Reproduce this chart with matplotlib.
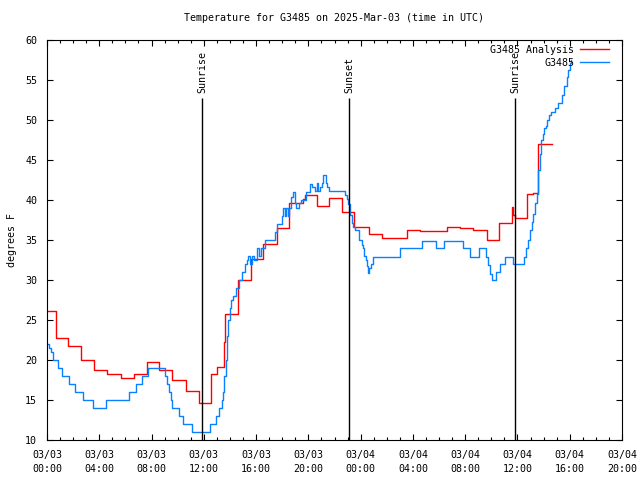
import pandas as pd
import matplotlib.pyplot as plt
import matplotlib.dates as mdates

# data (hours since 2025-03-03 00:00 UTC, degrees F)
start = pd.Timestamp('2025-03-03 00:00')

analysis_hours = [0.0, 0.67, 1.58, 2.58, 3.57, 4.57, 5.64, 6.63, 7.63, 8.55, 9.54, 10.61,
                  11.61, 12.53, 12.99, 13.55, 13.60, 14.64, 15.59, 16.55, 17.58, 18.54,
                  19.61, 19.74, 20.64, 21.56, 22.54, 23.52, 24.64, 25.63, 27.57, 28.54,
                  30.59, 31.60, 32.62, 33.65, 34.61, 35.61, 35.68, 35.78, 36.71, 37.19,
                  37.57, 38.62]
analysis_temp = [26.1, 22.8, 21.7, 20.0, 18.8, 18.2, 17.8, 18.3, 19.7, 18.7, 17.5, 16.1,
                 14.6, 18.3, 19.1, 22.3, 25.8, 30.0, 32.6, 34.5, 36.5, 39.6,
                 40.1, 40.6, 39.2, 40.3, 38.5, 36.6, 35.75, 35.3, 36.2, 36.1,
                 36.6, 36.5, 36.2, 35.0, 37.1, 39.1, 38.1, 37.8, 40.8, 40.9,
                 47.0, 47.0]

obs_hours = [0.00, 0.15, 0.30, 0.43, 0.82, 1.12, 1.66, 2.12, 2.73, 3.50, 4.49, 6.25,
             6.79, 7.25, 7.71, 9.00, 9.15, 9.30, 9.46, 9.60, 10.08, 10.38, 11.12, 12.50,
             12.90, 13.16, 13.37, 13.47, 13.57, 13.67, 13.77, 13.87, 13.98, 14.08, 14.26,
             14.44, 14.69, 14.90, 15.15, 15.28, 15.40, 15.53, 15.69, 15.84, 16.09, 16.22,
             16.38, 16.68, 17.45, 17.58, 17.98, 18.08, 18.21, 18.31, 18.44, 18.54, 18.67,
             18.85, 18.98, 19.03, 19.31, 19.44, 19.80, 20.13, 20.30, 20.51, 20.64, 20.76,
             20.89, 21.02, 21.14, 21.35, 21.45, 21.56, 22.83, 22.93, 23.06, 23.19, 23.32,
             23.44, 23.57, 23.90, 24.08, 24.20, 24.28, 24.39, 24.46, 24.54, 24.64, 24.77,
             24.97, 27.01, 28.67, 29.74, 30.40, 31.86, 32.37, 33.06, 33.57, 33.77, 33.90,
             34.03, 34.34, 34.67, 35.05, 35.68, 36.50, 36.65, 36.81, 36.96, 37.09, 37.21,
             37.34, 37.47, 37.60, 37.73, 37.80, 37.93, 38.03, 38.18, 38.28, 38.44, 38.57,
             38.87, 39.13, 39.39, 39.59, 39.77, 39.89, 40.02, 40.10]
obs_temp = [22, 21.5, 21, 20, 19, 18, 17, 16, 15, 14, 15, 16,
            17, 18, 19, 18, 17, 16, 15, 14, 13, 12, 11, 12,
            13, 14, 15, 16, 18, 20, 23, 25, 26.5, 27.5, 28,
            29, 30, 31, 32, 32.5, 33, 32, 33, 32.5, 34, 33,
            34, 35, 36, 37, 38, 39, 38, 39, 38, 39, 40.4,
            41, 39.6, 39, 39.6, 40, 41, 42, 41.6, 41.1, 42.1, 41.1,
            41.6, 42.1, 43.1, 42.1, 41.6, 41.1, 40.6, 40.1, 39.5, 38.1, 37.1,
            36.6, 36.2, 35, 34.4, 34, 33, 32.5, 31.7, 30.9, 31.5, 32,
            32.9, 34, 34.9, 34, 34.9, 34, 32.9, 34, 32.9, 31.9, 30.8,
            30, 31, 32, 32.9, 32, 32.9, 34, 35, 36.25, 37.3, 38.3,
            39.6, 40.8, 43.75, 45.8, 47.5, 48.3, 49, 49.2, 50, 50.6, 51,
            51.5, 52.1, 53.1, 54.2, 55.4, 56.25, 57.1, 57.5]

event_hours = [11.86, 23.11, 35.81]
event_names = ['Sunrise', 'Sunset', 'Sunrise']

# plot
mono = 'DejaVu Sans Mono'
fs = 7.2
t_analysis = start + pd.to_timedelta(analysis_hours, unit='h')
t_obs = start + pd.to_timedelta(obs_hours, unit='h')
t_event = start + pd.to_timedelta(event_hours, unit='h')

fig = plt.figure(figsize=(6.4, 4.8), dpi=100)
ax = fig.add_axes([47 / 640, 1 - 440 / 480, 575 / 640, 400 / 480])

ax.step(t_analysis, analysis_temp, where='post', color='#ff0000', lw=1.0, label='G3485 Analysis')
ax.step(t_obs, obs_temp, where='post', color='#0a80ff', lw=1.0, label='G3485')

for t, name in zip(t_event, event_names):
    ax.vlines(t, 10, 52.75, color='black', lw=1.0)
    ax.text(t, 53.4, name, rotation=90, ha='center', va='bottom', family=mono, fontsize=fs)

ax.set_xlim(start, start + pd.Timedelta(hours=44))
ax.set_ylim(10, 60)
ax.set_yticks(range(10, 61, 5))
ax.xaxis.set_major_locator(mdates.HourLocator(byhour=range(0, 24, 4)))
ax.xaxis.set_minor_locator(mdates.HourLocator())
ax.xaxis.set_major_formatter(mdates.DateFormatter('%m/%d\n%H:%M'))

ax.tick_params(which='both', direction='in', top=True, right=True, width=0.8,
               labelsize=fs, pad=7)
ax.tick_params(which='major', length=4.5)
ax.tick_params(which='minor', length=2.5)
for lab in ax.get_xticklabels() + ax.get_yticklabels():
    lab.set_family(mono)
    lab.set_linespacing(1.5)
for s in ax.spines.values():
    s.set_linewidth(0.8)

ax.set_ylabel('degrees F', family=mono, fontsize=fs, labelpad=6)
ax.set_title('Temperature for G3485 on 2025-Mar-03 (time in UTC)', family=mono, fontsize=fs, pad=14)

leg = ax.legend(loc='upper right', bbox_to_anchor=(0.99, 1.006), frameon=False,
                markerfirst=False, handlelength=2.9, prop={'family': mono, 'size': fs},
                borderaxespad=0.3, labelspacing=0.3, handletextpad=0.6)

fig.savefig('out.png', dpi=100)
